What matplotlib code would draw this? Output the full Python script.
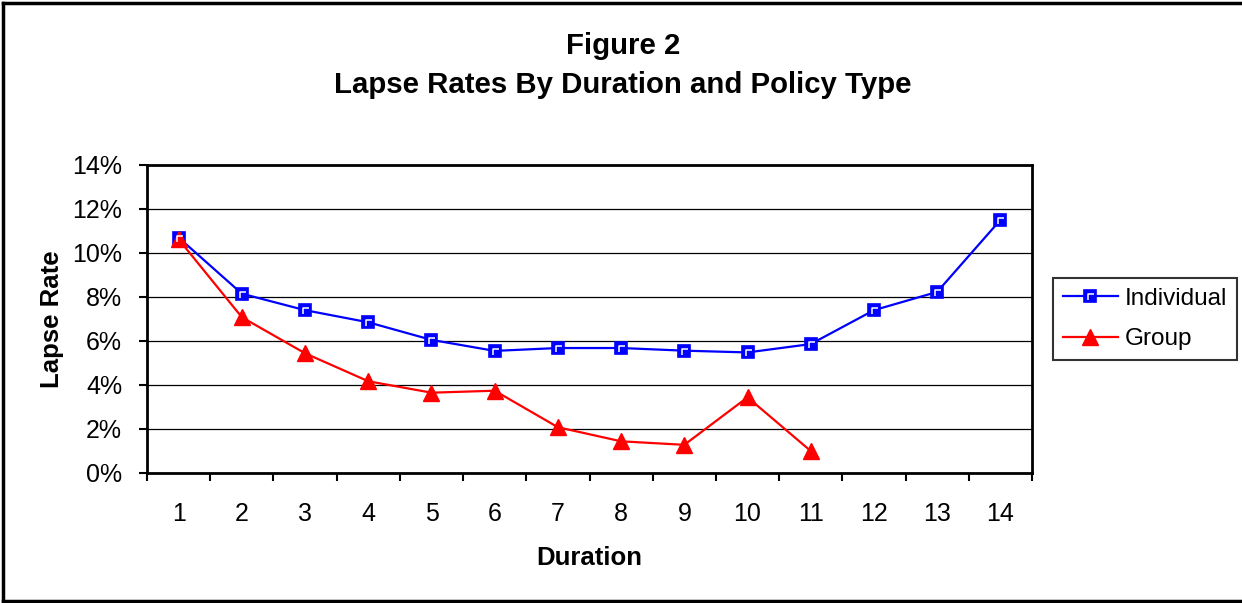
import matplotlib
matplotlib.use("Agg")
import matplotlib.pyplot as plt
from matplotlib.lines import Line2D
from matplotlib.path import Path
from matplotlib.ticker import FixedLocator, PercentFormatter
from matplotlib.legend_handler import HandlerTuple

plt.rcParams['font.family'] = ['Liberation Sans', 'DejaVu Sans']

# Lapse rates (%) by policy duration
durations = list(range(1, 15))
individual = [10.7, 8.15, 7.4, 6.85, 6.05, 5.55, 5.68, 5.68, 5.56, 5.48, 5.86, 7.4, 8.23, 11.5]
group = [10.62, 7.08, 5.44, 4.17, 3.65, 3.74, 2.08, 1.44, 1.28, 3.44, 1.0]

fig = plt.figure(figsize=(12.42, 6.03), dpi=100)
ax = fig.add_axes([0.1184, 0.2156, 0.7125, 0.5108])

# category positions sit between the tick marks
x_ind = [d - 0.5 for d in durations]
x_grp = [d - 0.5 for d in durations[:len(group)]]

ind_line, = ax.plot(x_ind, individual, color='#0000FF', lw=1.6, marker='s', ms=9,
                    mfc='#0000FF', mec='#0000FF', mew=1.2, zorder=3)
# white highlight inside the square markers
corner = Path([(-0.3, -0.5), (-0.3, 0.3), (0.5, 0.3)],
              [Path.MOVETO, Path.LINETO, Path.LINETO])
ind_hl, = ax.plot(x_ind, individual, ls='none', marker=corner, ms=6, mfc='none',
                  mec='white', mew=1.1, zorder=4)
grp_line, = ax.plot(x_grp, group, color='#FF0000', lw=1.6, marker='^', ms=11,
                    mfc='#FF0000', mec='#FF0000', zorder=3)

ax.set_xlim(0, 14)
ax.set_ylim(0, 14)
ax.xaxis.set_major_locator(FixedLocator(range(0, 15)))
ax.xaxis.set_minor_locator(FixedLocator(x_ind))
ax.set_xticklabels([])
ax.set_xticklabels([str(d) for d in durations], minor=True)
ax.tick_params(axis='x', which='major', direction='out', length=6, width=1.5)
ax.tick_params(axis='x', which='minor', length=0, pad=21, labelsize=18)
ax.set_yticks(range(0, 15, 2))
ax.yaxis.set_major_formatter(PercentFormatter(decimals=0))
ax.tick_params(axis='y', direction='out', length=6, width=1.5, pad=12, labelsize=18)
ax.grid(axis='y', color='black', lw=0.9)
ax.set_axisbelow(True)
for s in ax.spines.values():
    s.set_linewidth(2)

ax.set_xlabel('Duration', fontsize=18.5, fontweight='bold', labelpad=14)
ax.set_ylabel('Lapse Rate', fontsize=18.5, fontweight='bold', labelpad=6)

fig.text(0.5015, 0.924, 'Figure 2', ha='center', va='center', fontsize=21.2, fontweight='bold')
fig.text(0.5015, 0.859, 'Lapse Rates By Duration and Policy Type', ha='center', va='center',
         fontsize=21.2, fontweight='bold')

leg = fig.legend([(ind_line, ind_hl), grp_line], ['Individual', 'Group'],
                 handler_map={tuple: HandlerTuple(ndivide=1, pad=0)},
                 loc='center left', bbox_to_anchor=(0.848, 0.471), fontsize=17.5,
                 frameon=True, fancybox=False, edgecolor='black', handlelength=2.25,
                 borderpad=0.4, labelspacing=0.75, handletextpad=0.3, borderaxespad=0)
leg.get_frame().set_linewidth(1.5)

# chart border (left, top, bottom)
for xs, ys in [([0.0028, 0.0028], [0.0025, 0.995]),
               ([0.0028, 1.0], [0.995, 0.995]),
               ([0.0028, 1.0], [0.0025, 0.0025])]:
    fig.add_artist(Line2D(xs, ys, color='black', lw=2.5, transform=fig.transFigure))

fig.savefig('out.png', dpi=100)
